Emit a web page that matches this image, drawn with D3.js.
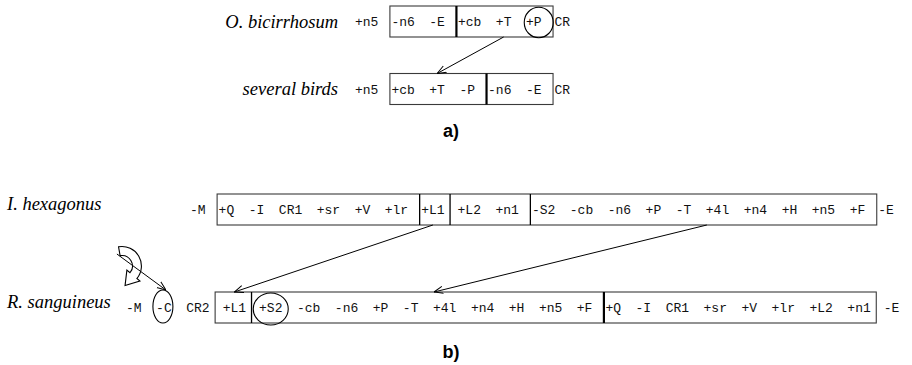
<!DOCTYPE html>
<html><head><meta charset="utf-8">
<script src="https://cdn.jsdelivr.net/npm/d3@7"></script>
<style>body{margin:0;background:#fff}svg{display:block}</style>
</head><body>
<svg id="c" width="912" height="365"></svg>
<script>
// ---------------- data ----------------
const rowNames = ["O. bicirrhosum", "several birds", "I. hexagonus", "R. sanguineus"];
// "|" border, "||" thick border, "<" tight before, ">" loose after, "@" circled gene
const rowObic  = ["+n5","|","-n6","-E","||","+cb","+T","@+P","|","CR"];
const rowBirds = ["+n5","|","+cb","+T","-P","||","-n6","-E","|","CR"];
const rowHex   = ["-M","|","+Q","-I","CR1","+sr","+V","+lr","|","+L1","<|>","+L2","+n1","|",
                  "-S2","-cb","-n6","+P","-T","+4l","+n4","+H","+n5","+F","|","-E"];
const rowSang  = ["-M","@-C","CR2","<|>","+L1","<|>","@+S2","-cb","-n6","+P","-T","+4l","+n4","+H","+n5","+F","||",
                  "+Q","-I","CR1","+sr","+V","+lr","+L2","+n1","<|>","-E"];
const panelLabels = ["a)", "b)"];
const arrowFrom = [["O. bicirrhosum","+T"], ["I. hexagonus","+L1"], ["I. hexagonus","+4l"]];
const arrowTo   = [["several birds","+T"],  ["R. sanguineus","+L1"], ["R. sanguineus","+4l"]];
const arrowAnchor = ["mid", "mid", "start"];

// ---------------- layout ----------------
const rows = [rowObic, rowBirds, rowHex, rowSang];
const yScale  = d3.scaleOrdinal().domain(rowNames).range([21.5, 89, 209.5, 307.5]);
const x0Scale = d3.scaleOrdinal().domain(rowNames).range([355, 355, 190, 126]);
const labelPanel = d3.scaleOrdinal().domain(rowNames).range(["a","a","b","b"]);
const panelY = d3.scaleOrdinal().domain(panelLabels).range([137, 358]);
const L = {gap:14.5, trail:11.5, tight:5.5, pad:1.5, loose:7.5, boxH:31};
const monoFont = "'Courier New','Liberation Mono',monospace";
const serifFont = "'Times New Roman','Liberation Serif',serif";
const ellipseStyle = {"+P":{rx:14.5, ry:15.2, dx:5, dy:1}, "-C":{rx:10, ry:16.5, dx:-1, dy:-1}, "+S2":{rx:17.5, ry:16, dx:0, dy:1.5}};

const svg = d3.select("#c");
const meas = svg.append("text").attr("font-family", monoFont).attr("font-size", 13).attr("visibility","hidden");
function tw(s){ meas.text(s); return meas.node().getComputedTextLength(); }

function layoutRow(tokens, x0){
  let x = x0, prev = null;
  const items = [], borders = [];
  tokens.forEach(t => {
    if (/^<?\|\|?>?$/.test(t)) {
      const tight = t.startsWith("<"), loose = t.endsWith(">"), thick = t.includes("||");
      if (prev === "tok") x += tight ? L.tight : L.trail;
      borders.push({x, thick});
      x += loose ? L.loose : L.pad;
      prev = "border";
    } else {
      const circled = t.startsWith("@");
      const text = t.replace("@","");
      if (prev === "tok") x += L.gap;
      const w = tw(text);
      items.push({text, x, w, circled});
      x += w; prev = "tok";
    }
  });
  return {items, borders};
}

const layouts = {};
rowNames.forEach((name, i) => { layouts[name] = layoutRow(rows[i], x0Scale(name)); });

// ---------------- draw ----------------
svg.append("defs").append("marker")
  .attr("id","ah").attr("viewBox","0 -5 10 10").attr("refX",10).attr("refY",0)
  .attr("markerWidth",9).attr("markerHeight",9).attr("markerUnits","userSpaceOnUse").attr("orient","auto")
  .append("path").attr("d","M0,-4L10,0L0,4").attr("fill","none").attr("stroke","#000").attr("stroke-width",1.1);

rowNames.forEach(name => {
  const yc = yScale(name), lay = layouts[name];
  const g = svg.append("g");
  const bx0 = lay.borders[0].x, bx1 = lay.borders[lay.borders.length-1].x;
  g.append("rect").attr("x", bx0).attr("y", yc - L.boxH/2).attr("width", bx1 - bx0).attr("height", L.boxH)
    .attr("fill","none").attr("stroke","#3a3a3a").attr("stroke-width",1.1);
  g.selectAll("line.div").data(lay.borders.slice(1, -1)).join("line")
    .attr("x1", d => d.x).attr("x2", d => d.x).attr("y1", yc - L.boxH/2).attr("y2", yc + L.boxH/2)
    .attr("stroke","#000").attr("stroke-width", d => d.thick ? 2.2 : 1.3);
  g.selectAll("text.gene").data(lay.items).join("text")
    .attr("x", d => d.x).attr("y", yc + 4.5)
    .attr("font-family", monoFont).attr("font-size", 13).attr("fill","#111")
    .text(d => d.text);
  g.selectAll("ellipse").data(lay.items.filter(d => d.circled)).join("ellipse")
    .attr("cx", d => d.x + d.w/2 + ellipseStyle[d.text].dx)
    .attr("cy", d => yc + ellipseStyle[d.text].dy)
    .attr("rx", d => ellipseStyle[d.text].rx).attr("ry", d => ellipseStyle[d.text].ry)
    .attr("fill","none").attr("stroke","#000").attr("stroke-width",1.1);
  // species label
  const isA = labelPanel(name) === "a";
  svg.append("text")
    .attr("x", isA ? 338 : 7).attr("y", isA ? yc + 6 : yc + 0.5)
    .attr("text-anchor", isA ? "end" : "start")
    .attr("font-family", serifFont).attr("font-style","italic").attr("font-size", 18.5).attr("fill","#000")
    .text(name);
});

// panel labels
svg.selectAll("text.panel").data(panelLabels).join("text")
  .attr("x", 451).attr("y", d => panelY(d)).attr("text-anchor","middle")
  .attr("font-family","Arial,'Liberation Sans',sans-serif").attr("font-weight","bold").attr("font-size",18)
  .text(d => d);

// arrows between rows
function anchorX(name, text, mode){
  const it = layouts[name].items.find(d => d.text === text);
  return mode === "start" ? it.x + 1 : it.x + it.w/2;
}
arrowFrom.forEach((f, i) => {
  const t = arrowTo[i];
  const x1 = anchorX(f[0], f[1], arrowAnchor[i]), y1 = yScale(f[0]) + L.boxH/2;
  const x2 = anchorX(t[0], t[1], arrowAnchor[i]), y2 = yScale(t[0]) - L.boxH/2;
  svg.append("line").attr("x1",x1).attr("y1",y1).attr("x2",x2).attr("y2",y2)
    .attr("stroke","#000").attr("stroke-width",1).attr("marker-end","url(#ah)");
});

// inversion symbol pointing to the circled -C
const cItem = layouts["R. sanguineus"].items.find(d => d.circled && d.text === "-C");
const cst = ellipseStyle["-C"];
const tipX = cItem.x + cItem.w/2 + cst.dx + 3, tipY = yScale("R. sanguineus") + cst.dy - cst.ry;
// hollow curved arrow
{
  const cx = tipX - 44, cy = tipY - 24, Rc = 15, bw = 4.5, hw = 8.5, hl = 13;
  const a0 = -100 * Math.PI/180, a1 = 40 * Math.PI/180;
  const px = cx + Rc*Math.cos(a1), py = cy + Rc*Math.sin(a1);
  const nx = Math.cos(a1), ny = Math.sin(a1);      // outward normal
  const tx = -Math.sin(a1), ty = Math.cos(a1);      // clockwise tangent
  const p = d3.path();
  p.moveTo(cx + (Rc+bw)*Math.cos(a0), cy + (Rc+bw)*Math.sin(a0));
  p.arc(cx, cy, Rc+bw, a0, a1, false);
  p.lineTo(px + hw*nx, py + hw*ny);
  p.lineTo(px + hl*tx, py + hl*ty);
  p.lineTo(px - hw*nx, py - hw*ny);
  p.lineTo(px - bw*nx, py - bw*ny);
  p.arc(cx, cy, Rc-bw, a1, a0, true);
  p.closePath();
  svg.append("path").attr("d", p.toString()).attr("fill","#fff").attr("stroke","#000").attr("stroke-width",1.1);
}
svg.append("line").attr("x1", tipX - 49).attr("y1", tipY - 36).attr("x2", tipX).attr("y2", tipY)
  .attr("stroke","#000").attr("stroke-width",1).attr("marker-end","url(#ah)");
meas.remove();
</script>
</body></html>
